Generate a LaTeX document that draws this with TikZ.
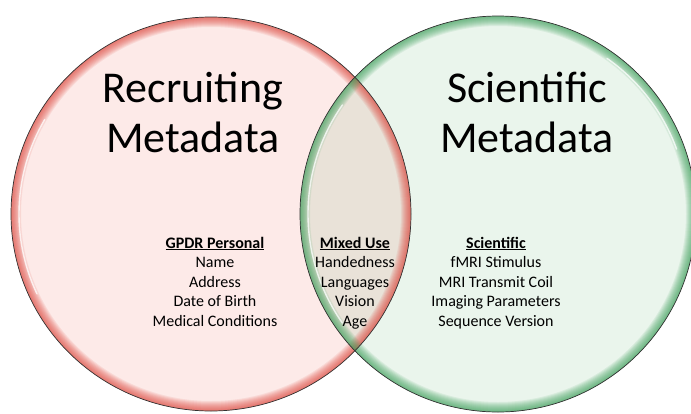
\documentclass[tikz,border=0pt]{standalone}
\usepackage{fontspec}
\setmainfont{Carlito}
\definecolor{recfill}{RGB}{253,234,232}
\definecolor{scifill}{RGB}{234,245,236}
\definecolor{mixfill}{RGB}{233,226,216}
\definecolor{recglow}{RGB}{222,68,58}
\definecolor{sciglow}{RGB}{58,158,88}
\definecolor{rim}{RGB}{50,50,50}
\tikzset{
  titletext/.style={font=\fontsize{44}{50}\selectfont, anchor=base, inner sep=0pt},
  itemtext/.style={font=\fontsize{16}{19.5}\selectfont, anchor=base, inner sep=0pt},
  headtext/.style={font=\fontsize{16}{19.5}\selectfont\bfseries, anchor=base, inner sep=0pt},
  rimline/.style={draw=rim, line width=0.7pt},
  highlight/.style={draw=white, line width=1.4pt, opacity=0.75, line cap=round},
}
\newcommand{\recset}{(211,214) ellipse [x radius=200pt, y radius=197pt]}
\newcommand{\sciset}{(498,214) ellipse [x radius=198pt, y radius=198pt]}
\begin{document}
\begin{tikzpicture}[x=1pt, y=-1pt]
  \useasboundingbox (0,0) rectangle (691,413);
  \clip (0,0) rectangle (691,413);

  % set fills
  \fill[recfill] \recset;
  \fill[scifill] \sciset;
  \begin{scope}
    \clip \recset;
    \fill[mixfill] \sciset;
  \end{scope}

  % soft coloured rim on the inside of each set
  \begin{scope}
    \clip \recset;
    \foreach \w in {1,...,10}
      \draw[recglow, opacity=0.1, line width=2*\w pt] \recset;
  \end{scope}
  \begin{scope}
    \clip \sciset;
    \foreach \w in {1,...,10}
      \draw[sciglow, opacity=0.1, line width=2*\w pt] \sciset;
  \end{scope}

  % bevel highlights
  \draw[highlight] ([shift={(150:192pt and 189pt)}]211,214)
    arc[start angle=150, end angle=205, x radius=192pt, y radius=189pt];
  \draw[highlight] ([shift={(145:190pt and 190pt)}]498,214)
    arc[start angle=145, end angle=215, x radius=190pt, y radius=190pt];
  \draw[highlight] ([shift={(20:190pt and 190pt)}]498,214)
    arc[start angle=20, end angle=55, x radius=190pt, y radius=190pt];

  % outlines
  \draw[rimline] \recset;
  \draw[rimline] \sciset;

  % titles
  \node[titletext] (rec1) at (193,102) {Recruiting};
  \node[titletext] (rec2) at (193,152) {Metadata};
  \node[titletext] (sci1) at (527,102) {Scientific};
  \node[titletext] (sci2) at (527,152) {Metadata};

  % personal column
  \node[headtext] (gp0) at (215,248) {\underline{GPDR Personal}};
  \node[itemtext] (gp1) at (215,267.5) {Name};
  \node[itemtext] (gp2) at (215,287) {Address};
  \node[itemtext] (gp3) at (215,306.5) {Date of Birth};
  \node[itemtext] (gp4) at (215,326) {Medical Conditions};

  % mixed column
  \node[headtext] (mx0) at (355,248) {\underline{Mixed Use}};
  \node[itemtext] (mx1) at (355,267.5) {Handedness};
  \node[itemtext] (mx2) at (355,287) {Languages};
  \node[itemtext] (mx3) at (355,306.5) {Vision};
  \node[itemtext] (mx4) at (355,326) {Age};

  % scientific column
  \node[headtext] (sc0) at (496,248) {\underline{Scientific}};
  \node[itemtext] (sc1) at (496,267.5) {fMRI Stimulus};
  \node[itemtext] (sc2) at (496,287) {MRI Transmit Coil};
  \node[itemtext] (sc3) at (496,306.5) {Imaging Parameters};
  \node[itemtext] (sc4) at (496,326) {Sequence Version};
\end{tikzpicture}
\end{document}
